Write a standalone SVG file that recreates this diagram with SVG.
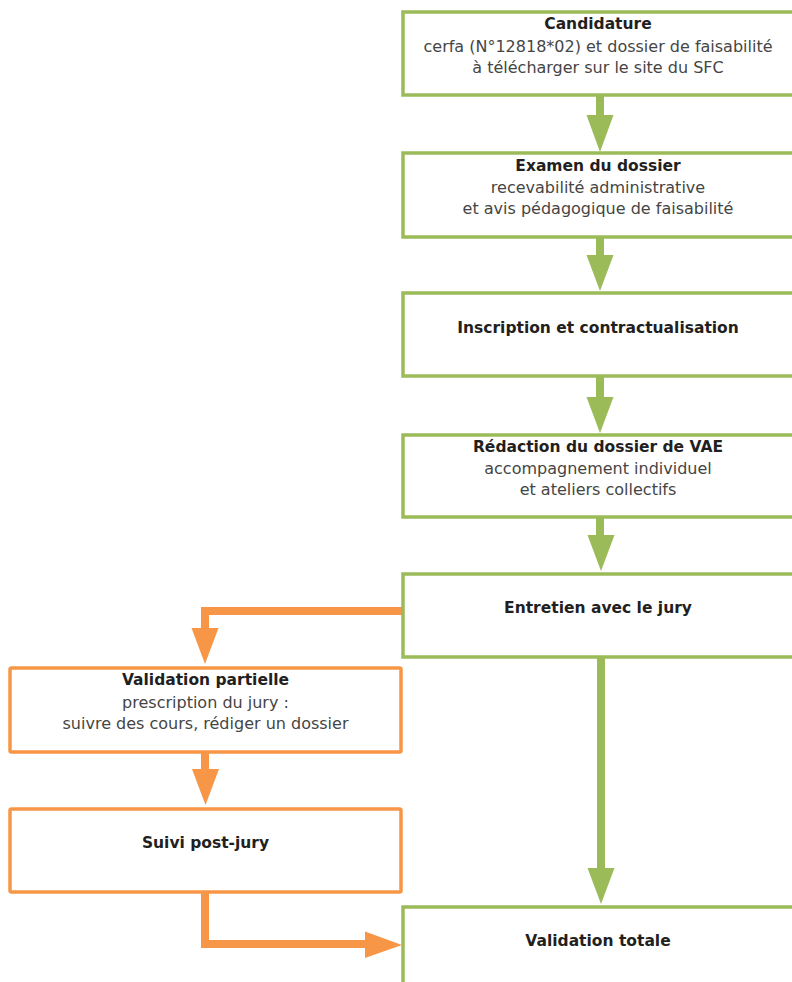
<svg xmlns="http://www.w3.org/2000/svg" width="792" height="982" viewBox="0 0 792 982">
  <style>
    .g { fill: #ffffff; stroke: #9BBB59; stroke-width: 3.5; }
    .o { fill: #ffffff; stroke: #F79646; stroke-width: 3.5; }
    .gs { fill: none; stroke: #9BBB59; stroke-width: 8; }
    .os { fill: none; stroke: #F79646; stroke-width: 8; }
    .gh { fill: #9BBB59; }
    .oh { fill: #F79646; }
    text { font-family: "DejaVu Sans", "Liberation Sans", sans-serif; font-size: 16px; text-anchor: middle; }
    .t { font-weight: bold; font-size: 15.5px; fill: #231F20; }
    .s { fill: #454545; }
  </style>
  <rect width="792" height="982" fill="#ffffff"/>
  <g id="connectors">
    <line class="gs" x1="600" y1="95" x2="600" y2="116"/>
    <polygon class="gh" points="586.5,115 613.5,115 600,152"/>
    <line class="gs" x1="600" y1="237" x2="600" y2="256"/>
    <polygon class="gh" points="586.5,255 613.5,255 600,291"/>
    <line class="gs" x1="600" y1="376" x2="600" y2="398"/>
    <polygon class="gh" points="586.5,397 613.5,397 600,433"/>
    <line class="gs" x1="600" y1="517" x2="600" y2="536"/>
    <polygon class="gh" points="587.5,535 614.5,535 601,571"/>
    <line class="gs" x1="601" y1="657" x2="601" y2="869"/>
    <polygon class="gh" points="587.5,868 614.5,868 601,904"/>
    <polyline class="os" points="403,611 205,611 205,629"/>
    <polygon class="oh" points="191.5,628 218.5,628 205,664"/>
    <line class="os" x1="205" y1="752" x2="205" y2="770"/>
    <polygon class="oh" points="192,769 219,769 205.5,805"/>
    <polyline class="os" points="205,892 205,944 366,944"/>
    <polygon class="oh" points="365,931.5 365,958 402,945"/>
  </g>
  <g id="candidature">
    <rect class="g" x="403" y="12" width="400" height="83"/>
    <text class="t" x="598" y="29">Candidature</text>
    <text class="s" x="598" y="52">cerfa (N°12818*02) et dossier de faisabilité</text>
    <text class="s" x="598" y="73">à télécharger sur le site du SFC</text>
  </g>
  <g id="examen">
    <rect class="g" x="403" y="153" width="400" height="84"/>
    <text class="t" x="598" y="171">Examen du dossier</text>
    <text class="s" x="598" y="193">recevabilité administrative</text>
    <text class="s" x="598" y="214">et avis pédagogique de faisabilité</text>
  </g>
  <g id="inscription">
    <rect class="g" x="403" y="293" width="400" height="83"/>
    <text class="t" x="598" y="333">Inscription et contractualisation</text>
  </g>
  <g id="redaction">
    <rect class="g" x="403" y="435" width="400" height="82"/>
    <text class="t" x="598" y="452">Rédaction du dossier de VAE</text>
    <text class="s" x="598" y="474">accompagnement individuel</text>
    <text class="s" x="598" y="495">et ateliers collectifs</text>
  </g>
  <g id="entretien">
    <rect class="g" x="403" y="574" width="400" height="83"/>
    <text class="t" x="598" y="613">Entretien avec le jury</text>
  </g>
  <g id="validation-partielle">
    <rect class="o" x="10" y="668" width="391" height="84" rx="1.5"/>
    <text class="t" x="205.5" y="685">Validation partielle</text>
    <text class="s" x="205.5" y="708">prescription du jury :</text>
    <text class="s" x="205.5" y="729">suivre des cours, rédiger un dossier</text>
  </g>
  <g id="suivi">
    <rect class="o" x="10" y="809" width="391" height="83" rx="1.5"/>
    <text class="t" x="205.5" y="848">Suivi post-jury</text>
  </g>
  <g id="validation-totale">
    <rect class="g" x="403" y="907" width="400" height="100"/>
    <text class="t" x="598" y="946">Validation totale</text>
  </g>
</svg>
